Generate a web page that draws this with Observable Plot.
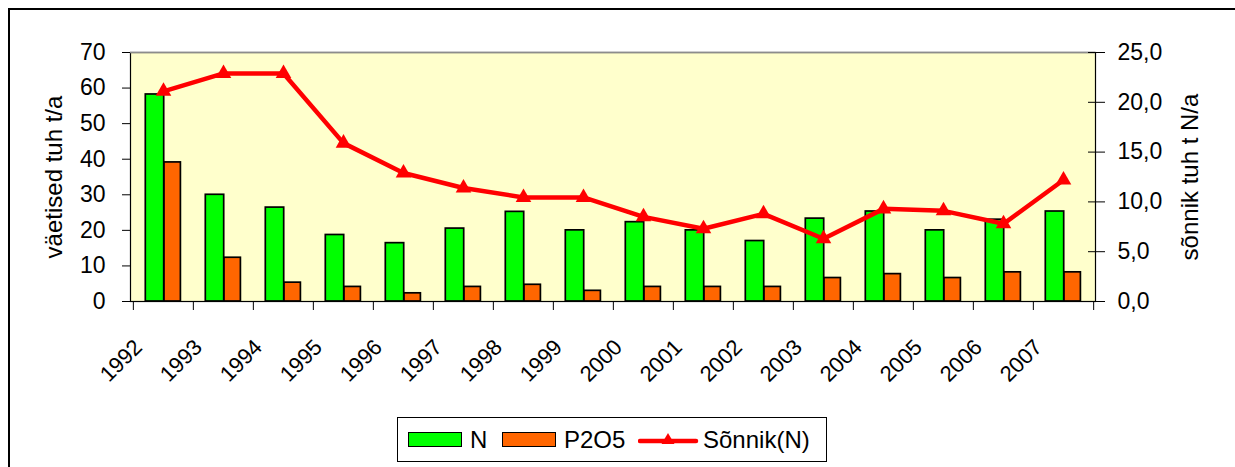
<!DOCTYPE html>
<html><head><meta charset="utf-8">
<script src="https://cdn.jsdelivr.net/npm/d3@7"></script>
<script src="https://cdn.jsdelivr.net/npm/@observablehq/plot@0.6"></script>
<style>
html,body{margin:0;padding:0;background:#fff;overflow:hidden;}
#wrap{position:relative;width:1235px;height:467px;font-family:"Liberation Sans",Arial,sans-serif;overflow:hidden;}
#frame{position:absolute;left:8px;top:8px;width:1300px;height:500px;border-top:2px solid #000;border-left:2px solid #000;}
#chart{position:absolute;left:0;top:0;}
#legend{position:absolute;left:397px;top:417px;width:430px;height:45px;border:1px solid #000;box-sizing:border-box;background:#fff;font-size:24px;color:#000;}
#legend .it{position:absolute;top:0;height:43px;display:flex;align-items:center;}
#legend .sw{width:54px;height:15px;border:1.6px solid #000;box-sizing:border-box;margin-right:8px;}
</style></head><body>
<div id="wrap"><div id="frame"></div><div id="chart"></div><div id="legend"></div></div>
<script>
const years = ["1992","1993","1994","1995","1996","1997","1998","1999","2000","2001","2002","2003","2004","2005","2006","2007"];
const nValues = [58.2, 30.0, 26.4, 18.7, 16.4, 20.5, 25.2, 20.0, 22.3, 20.0, 17.0, 23.3, 25.3, 20.0, 23.0, 25.3];
const p2o5Values = [39.1, 12.3, 5.3, 4.1, 2.3, 4.1, 4.7, 3.0, 4.1, 4.1, 4.1, 6.6, 7.7, 6.6, 8.2, 8.2];
const manureValues = [21.1, 22.9, 22.9, 15.9, 12.9, 11.4, 10.45, 10.45, 8.5, 7.3, 8.8, 6.3, 9.3, 9.1, 7.8, 12.2];
const leftTicks = [0, 10, 20, 30, 40, 50, 60, 70];
const rightTicks = [0, 5, 10, 15, 20, 25];
const seriesNames = ["N", "P2O5", "Sõnnik(N)"];
const leftTitle = "väetised tuh t/a";
const rightTitle = "sõnnik tuh t N/a";
const colors = ["#00FF00", "#FF6600", "#FF0000"];

const leftMax = 70, rightMax = 25;
const toLeft = v => v * leftMax / rightMax;
const rows = years.map((y, i) => ({year: y, n: nValues[i], p: p2o5Values[i], m: manureValues[i]}));
const bw = (1095 - 130) / years.length;

const chart = Plot.plot({
  width: 1235, height: 410,
  marginLeft: 130, marginRight: 140, marginTop: 52, marginBottom: 109,
  style: {fontFamily: "'Liberation Sans', Arial, sans-serif", fontSize: "23px", color: "#000", background: "transparent", overflow: "visible"},
  x: {type: "band", domain: years, padding: 0, axis: null},
  y: {domain: [0, leftMax], axis: null},
  marks: [
    Plot.frame({fill: "#FFFFCC"}),
    Plot.barY(rows, {x: "year", y: "n", fill: colors[0], stroke: "#000", strokeWidth: 1.7, insetLeft: 12.3, insetRight: 29.3}),
    Plot.barY(rows, {x: "year", y: "p", fill: colors[1], stroke: "#000", strokeWidth: 1.7, insetLeft: 31, insetRight: 12.6}),
    Plot.frame({stroke: "#000", strokeWidth: 1.2}),
    Plot.ruleY([leftMax], {stroke: "#8c8c8c", strokeWidth: 1.5}),
    Plot.axisX(years, {tickSize: 9, fill: "none", label: null, dx: -bw / 2}),
    Plot.axisX([years[years.length - 1]], {tickSize: 9, fill: "none", label: null, dx: bw / 2}),
    Plot.text(rows, {x: "year", text: "year", frameAnchor: "bottom", rotate: -45, textAnchor: "end", lineAnchor: "bottom", dx: -20, dy: 47, fontSize: 22}),
    Plot.axisY(leftTicks, {anchor: "left", tickSize: 8, tickPadding: 17, label: null, fontSize: 23}),
    Plot.axisY(rightTicks.map(toLeft), {anchor: "right", tickSize: 9, tickPadding: 13, label: null, fontSize: 23,
      tickFormat: d => (d * rightMax / leftMax).toFixed(1).replace(".", ",")}),
    Plot.axisY(rightTicks.map(toLeft), {anchor: "right", tickSize: 8, dx: -8, fill: "none", label: null}),
    Plot.line(rows, {x: "year", y: d => toLeft(d.m), stroke: colors[2], strokeWidth: 4.5, strokeLinejoin: "round"}),
    Plot.dot(rows, {x: "year", y: d => toLeft(d.m), symbol: "triangle", r: 5.8, fill: colors[2]}),
    Plot.text([leftTitle], {text: d => d, frameAnchor: "left", textAnchor: "middle", rotate: -90, dx: -76, fontSize: 24}),
    Plot.text([rightTitle], {text: d => d, frameAnchor: "right", textAnchor: "middle", rotate: -90, dx: 95, fontSize: 24})
  ]
});
document.getElementById("chart").appendChild(chart);

const legend = document.getElementById("legend");
const pos = [10, 104, 240];
seriesNames.forEach((name, i) => {
  const it = document.createElement("div");
  it.className = "it";
  it.style.left = pos[i] + "px";
  if (i < 2) {
    const sw = document.createElement("div");
    sw.className = "sw";
    sw.style.background = colors[i];
    it.appendChild(sw);
  } else {
    const ns = "http://www.w3.org/2000/svg";
    const s = document.createElementNS(ns, "svg");
    s.setAttribute("width", 62); s.setAttribute("height", 20);
    s.style.marginRight = "3px";
    const l = document.createElementNS(ns, "line");
    l.setAttribute("x1", 2); l.setAttribute("x2", 58); l.setAttribute("y1", 11); l.setAttribute("y2", 11);
    l.setAttribute("stroke", colors[2]); l.setAttribute("stroke-width", 4.5); l.setAttribute("stroke-linecap", "round");
    const t = document.createElementNS(ns, "path");
    t.setAttribute("d", "M30,3 L36.5,14 L23.5,14 Z");
    t.setAttribute("fill", colors[2]);
    s.appendChild(l); s.appendChild(t);
    it.appendChild(s);
  }
  const tx = document.createElement("span");
  tx.textContent = name;
  it.appendChild(tx);
  legend.appendChild(it);
});
</script>
</body></html>
